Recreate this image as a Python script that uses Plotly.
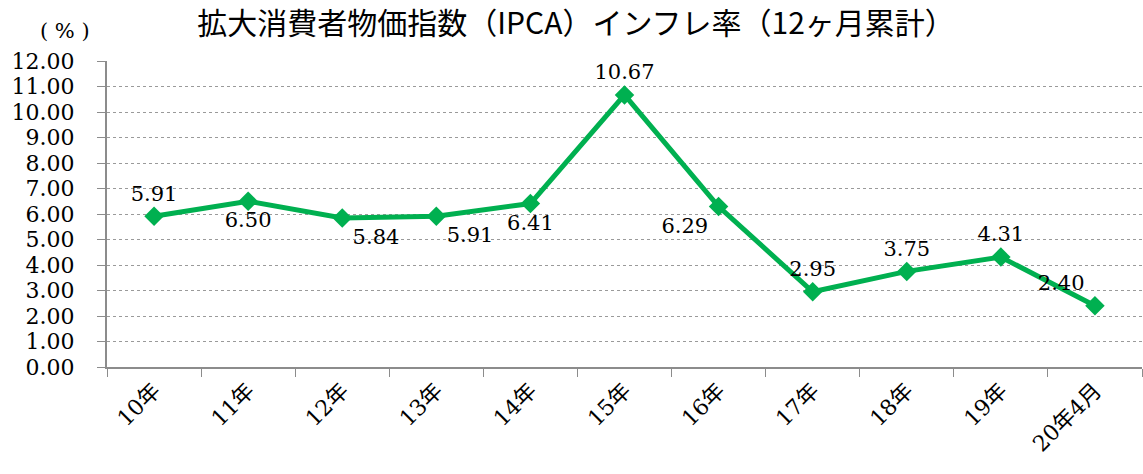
import plotly.graph_objects as go

years = ["10年", "11年", "12年", "13年", "14年", "15年", "16年", "17年", "18年", "19年", "20年4月"]
ipca = [5.91, 6.50, 5.84, 5.91, 6.41, 10.67, 6.29, 2.95, 3.75, 4.31, 2.40]
label_pos = ["top center", "bottom center", "bottom right", "bottom right", "bottom center",
             "top center", "bottom left", "top center", "top center", "top center", "top left"]

serif = '"DejaVu Serif", "Noto Sans CJK JP", serif'
green = "#00B050"

fig = go.Figure(go.Scatter(
    x=years, y=ipca,
    mode="lines+markers+text",
    line=dict(color=green, width=5),
    marker=dict(symbol="diamond", size=15, color=green),
    text=[f"{v:.2f}" for v in ipca],
    textposition=label_pos,
    textfont=dict(family=serif, size=21, color="black"),
    cliponaxis=False,
))

fig.update_layout(
    width=1143, height=474,
    margin=dict(l=107, r=1, t=61, b=107),
    plot_bgcolor="white", paper_bgcolor="white",
    font=dict(family=serif, size=21, color="black"),
    showlegend=False,
    title=dict(text="拡大消費者物価指数（IPCA）インフレ率（12ヶ月累計）",
               x=0.504, xanchor="center", y=0.95, yanchor="middle",
               font=dict(family="Noto Sans CJK JP", size=30, color="black")),
    annotations=[dict(text="( % )", xref="paper", yref="paper", x=-0.041, y=1.098,
                      xanchor="center", yanchor="middle", showarrow=False,
                      font=dict(family=serif, size=21, color="black"))],
)

fig.update_xaxes(
    type="category", range=[-0.5, len(years) - 0.5], tickson="boundaries",
    ticks="outside", ticklen=8, tickcolor="#8c8c8c",
    showline=True, linecolor="#8c8c8c", linewidth=2, showgrid=False, automargin=False,
    tickangle=-45, tickfont=dict(family=serif, size=22, color="black"),
)
fig.update_yaxes(
    range=[0, 12], dtick=1, tickformat=".2f", ticks="outside", ticklen=8, tickcolor="#8c8c8c",
    showline=True, linecolor="#8c8c8c", linewidth=2, automargin=False, ticklabelstandoff=18,
    showgrid=True, gridcolor="#9a9a9a", griddash="dot", gridwidth=1, zeroline=False,
    tickfont=dict(family=serif, size=22, color="black"),
)

# drop the default 8px page margin so the figure sits at the window's corner
fig.write_html("out.html", config={"displayModeBar": False},
               post_script="document.body.style.margin='0';")
